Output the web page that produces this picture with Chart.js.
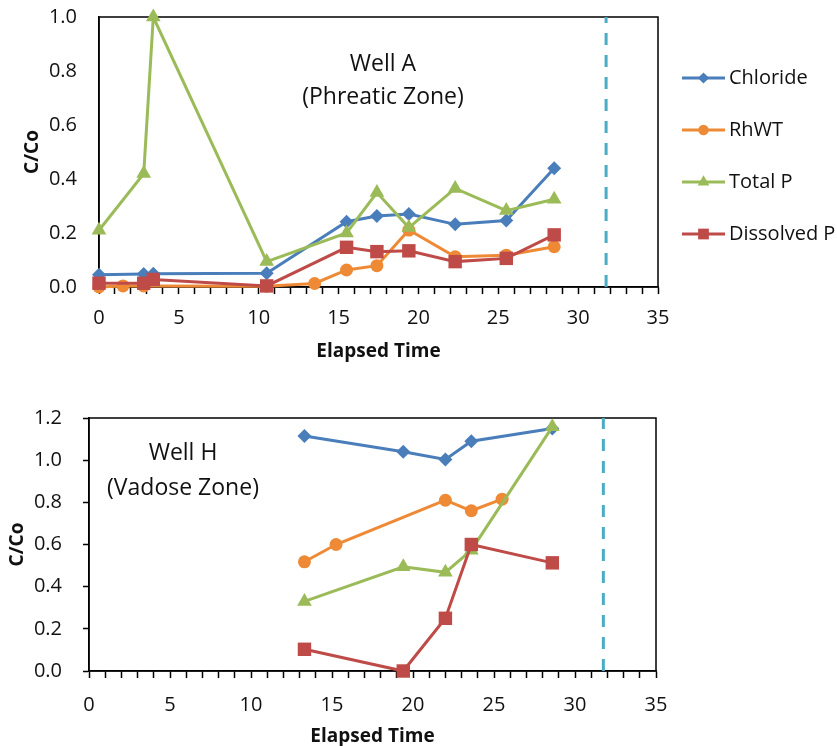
<!DOCTYPE html>
<html>
<head>
<meta charset="utf-8">
<title>Well A / Well H breakthrough</title>
<script src="https://cdn.jsdelivr.net/npm/chart.js@4.4.1/dist/chart.umd.min.js"></script>
<style>
  html, body { margin: 0; padding: 0; background: #fff; overflow: hidden; }
  canvas { position: absolute; left: 0; }
  #wellA { top: 0; }
  #wellH { top: 376px; }
</style>
</head>
<body>
<canvas id="wellA" width="837" height="370"></canvas>
<canvas id="wellH" width="837" height="372"></canvas>
<script>
// Well A (phreatic zone) sampling times and C/Co values
const timeA_chloride = [0, 2.8, 3.4, 10.5, 15.5, 17.4, 19.4, 22.3, 25.5, 28.5];
const wellA_chloride = [0.045, 0.048, 0.049, 0.051, 0.242, 0.263, 0.27, 0.232, 0.246, 0.44];
const timeA_rhwt = [0, 1.5, 2.8, 10.5, 13.5, 15.5, 17.4, 19.4, 22.3, 25.5, 28.5];
const wellA_rhwt = [0.0, 0.004, 0.004, 0.003, 0.013, 0.063, 0.079, 0.211, 0.112, 0.118, 0.149];
const timeA_totalP = [0, 2.8, 3.4, 10.5, 15.5, 17.4, 19.4, 22.3, 25.5, 28.5];
const wellA_totalP = [0.21, 0.42, 1.0, 0.094, 0.2, 0.35, 0.22, 0.365, 0.283, 0.325];
const timeA_dissolvedP = [0, 2.8, 3.4, 10.5, 15.5, 17.4, 19.4, 22.3, 25.5, 28.5];
const wellA_dissolvedP = [0.014, 0.014, 0.028, 0.004, 0.147, 0.131, 0.134, 0.094, 0.106, 0.193];

// Well H (vadose zone)
const timeH_chloride = [13.3, 19.4, 22.0, 23.6, 28.6];
const wellH_chloride = [1.115, 1.04, 1.003, 1.09, 1.15];
const timeH_rhwt = [13.3, 15.25, 22.0, 23.6, 25.5];
const wellH_rhwt = [0.518, 0.6, 0.81, 0.76, 0.815];
const timeH_totalP = [13.3, 19.4, 22.0, 23.6, 28.6];
const wellH_totalP = [0.33, 0.494, 0.468, 0.573, 1.158];
const timeH_dissolvedP = [13.3, 19.4, 22.0, 23.6, 28.6];
const wellH_dissolvedP = [0.103, 0.0, 0.25, 0.6, 0.513];

// end of the event (dashed marker) and axis ranges
const eventEnd = 31.75;
const xTicks = [0, 5, 10, 15, 20, 25, 30, 35];
const yMaxA = 1.0;
const yMaxH = 1.2;

const FONT = "'Open Sans', 'DejaVu Sans', sans-serif";
const TEXT = '#111';

const series = [
  { label: 'Chloride', color: '#4A7EBB', style: 'rectRot', radius: 7 },
  { label: 'RhWT', color: '#EE8A35', style: 'circle', radius: 6.5 },
  { label: 'Total P', color: '#9BBB59', style: 'triangle', radius: 8.5 },
  { label: 'Dissolved P', color: '#BE4B48', style: 'rect', radius: 9.5 }
];

function zip(xs, ys) {
  return xs.map((x, i) => ({ x: x, y: ys[i] }));
}

function buildDatasets(sets, yMax) {
  const out = sets.map((pts, i) => {
    const s = series[i];
    return {
      label: s.label,
      data: pts,
      borderColor: s.color,
      backgroundColor: s.color,
      pointBackgroundColor: s.color,
      pointBorderColor: s.color,
      pointBorderWidth: 0,
      pointStyle: s.style,
      pointRadius: s.radius,
      borderWidth: 3,
      tension: 0,
      clip: false,
      order: 3 - i,
      keyed: true
    };
  });
  out.push({
    label: 'end',
    data: [{ x: eventEnd, y: 0 }, { x: eventEnd, y: yMax }],
    borderColor: '#4BACC6',
    borderWidth: 3,
    borderDash: [12, 10],
    pointRadius: 0,
    order: 10
  });
  return out;
}

// box around the plot area
const frame = {
  id: 'frame',
  beforeDatasetsDraw(chart) {
    const a = chart.chartArea, ctx = chart.ctx;
    ctx.save();
    ctx.strokeStyle = '#000';
    ctx.lineWidth = 1.5;
    ctx.strokeRect(a.left, a.top, a.right - a.left, a.bottom - a.top);
    ctx.restore();
  }
};

// line + marker legend drawn at the right of the plot
const seriesKey = {
  id: 'seriesKey',
  afterDraw(chart, args, opts) {
    if (!opts.show) return;
    const ctx = chart.ctx;
    const items = chart.data.datasets.filter(d => d.keyed);
    items.forEach((ds, i) => {
      const y = opts.top + i * opts.gap;
      ctx.save();
      ctx.strokeStyle = ds.borderColor;
      ctx.lineWidth = ds.borderWidth;
      ctx.beginPath();
      ctx.moveTo(opts.x, y);
      ctx.lineTo(opts.x + opts.len, y);
      ctx.stroke();
      ctx.fillStyle = ds.pointBackgroundColor;
      Chart.helpers.drawPoint(ctx, { pointStyle: ds.pointStyle, radius: ds.pointRadius * 0.8, borderWidth: 0, rotation: 0 }, opts.x + opts.len / 2, y);
      ctx.fillStyle = TEXT;
      ctx.font = '20px ' + FONT;
      ctx.textBaseline = 'middle';
      ctx.textAlign = 'left';
      ctx.fillText(ds.label, opts.x + opts.len + 4, y);
      ctx.restore();
    });
  }
};

// well name inside the plot
const wellLabel = {
  id: 'wellLabel',
  afterDraw(chart, args, opts) {
    if (!opts.lines) return;
    const ctx = chart.ctx;
    ctx.save();
    ctx.fillStyle = TEXT;
    ctx.font = '23px ' + FONT;
    ctx.textAlign = 'center';
    ctx.textBaseline = 'middle';
    opts.lines.forEach((t, i) => ctx.fillText(t, opts.x, opts.y + i * opts.gap));
    ctx.restore();
  }
};

function makeChart(id, sets, yMax, lay) {
  return new Chart(document.getElementById(id), {
    type: 'line',
    data: { datasets: buildDatasets(sets, yMax) },
    options: {
      responsive: false,
      devicePixelRatio: 1,
      animation: false,
      layout: { padding: { top: lay.top, right: lay.right, left: 0, bottom: 0 } },
      plugins: {
        legend: { display: false },
        tooltip: { enabled: false },
        seriesKey: lay.key,
        wellLabel: lay.label
      },
      scales: {
        x: {
          type: 'linear',
          min: 0,
          max: 35,
          ticks: {
            stepSize: 1,
            autoSkip: false,
            maxRotation: 0,
            padding: lay.xTickPad,
            color: TEXT,
            font: { family: FONT, size: 20 },
            callback: v => xTicks.includes(v) ? String(v) : ''
          },
          grid: { drawOnChartArea: false, drawTicks: true, tickLength: 7, tickColor: '#000', tickWidth: 1.5 },
          border: { color: '#000', width: 1.5 },
          title: {
            display: true,
            text: 'Elapsed Time',
            color: TEXT,
            font: { family: FONT, size: 19, weight: 'bold', lineHeight: 1.2 },
            padding: { top: 0, bottom: lay.xTitlePad }
          },
          afterFit: s => { s.height = lay.xHeight; }
        },
        y: {
          type: 'linear',
          min: 0,
          max: yMax,
          ticks: {
            stepSize: 0.2,
            padding: lay.yTickPad,
            color: TEXT,
            font: { family: FONT, size: 20 },
            callback: v => v.toFixed(1)
          },
          grid: { drawOnChartArea: false, drawTicks: true, tickLength: lay.yTickLen, tickColor: lay.yTickColor, tickWidth: 1.5 },
          border: { color: '#000', width: 1.5 },
          title: {
            display: true,
            text: 'C/Co',
            color: TEXT,
            font: { family: FONT, size: 19, weight: 'bold', lineHeight: 1.2 },
            padding: { top: lay.yTitlePad, bottom: 0 }
          },
          afterFit: s => { s.width = lay.yWidth; }
        }
      }
    },
    plugins: [frame, seriesKey, wellLabel]
  });
}

makeChart('wellA', [
  zip(timeA_chloride, wellA_chloride),
  zip(timeA_rhwt, wellA_rhwt),
  zip(timeA_totalP, wellA_totalP),
  zip(timeA_dissolvedP, wellA_dissolvedP)
], yMaxA, {
  top: 17, right: 179, yWidth: 99, xHeight: 83,
  xTickPad: 12, xTitlePad: 7, yTickPad: 4, yTickLen: 18, yTickColor: 'rgba(0,0,0,0)', yTitlePad: 21,
  key: { show: true, x: 682, len: 43, top: 78, gap: 52 },
  label: { lines: ['Well A', '(Phreatic Zone)'], x: 383, y: 64, gap: 33 }
});

makeChart('wellH', [
  zip(timeH_chloride, wellH_chloride),
  zip(timeH_rhwt, wellH_rhwt),
  zip(timeH_totalP, wellH_totalP),
  zip(timeH_dissolvedP, wellH_dissolvedP)
], yMaxH, {
  top: 42, right: 181, yWidth: 89, xHeight: 77,
  xTickPad: 15, xTitlePad: 0, yTickPad: 21, yTickLen: 6, yTickColor: '#000', yTitlePad: 6,
  key: { show: false },
  label: { lines: ['Well H', '(Vadose Zone)'], x: 183, y: 77, gap: 35 }
});
</script>
</body>
</html>
